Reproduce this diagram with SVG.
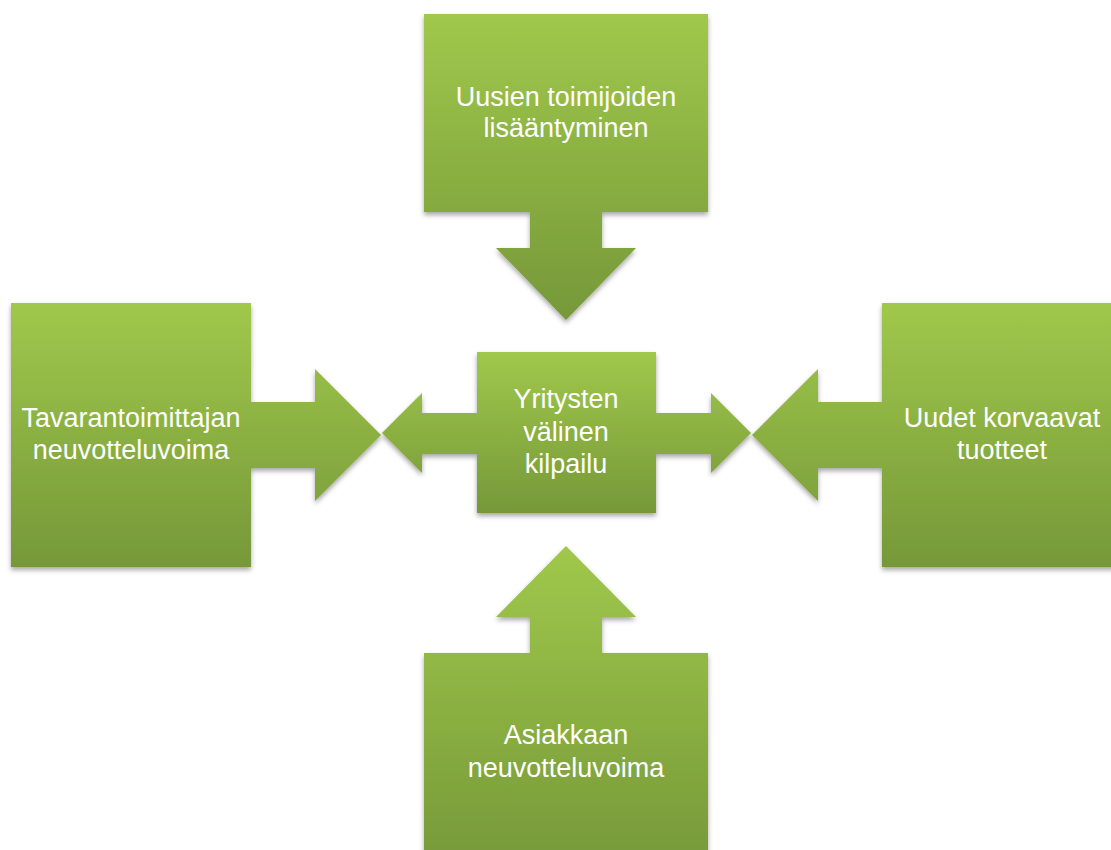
<svg xmlns="http://www.w3.org/2000/svg" width="1111" height="850" viewBox="0 0 1111 850">
  <defs>
    <linearGradient id="g" x1="0" y1="0" x2="0" y2="1">
      <stop offset="0" stop-color="#a0c84b"/>
      <stop offset="1" stop-color="#769839"/>
    </linearGradient>
    <filter id="sh" x="-10%" y="-10%" width="120%" height="125%">
      <feDropShadow dx="0" dy="3" stdDeviation="2.5" flood-color="#000" flood-opacity="0.35"/>
    </filter>
  </defs>
  <style>
    .shape { fill: url(#g); filter: url(#sh); }
    .lbl { font-family: "Liberation Sans", Arial, sans-serif; font-size: 27px; fill: #ffffff; text-anchor: middle; }
  </style>
  <rect width="1111" height="850" fill="#ffffff"/>
  <g id="connectors"></g>
  <g id="node-top">
    <path class="shape" d="M424,14 H708 V212 H602 V248 H636 L566,320 L496,248 H530 V212 H424 Z"/>
    <text class="lbl" x="566" y="106">Uusien toimijoiden</text>
    <text class="lbl" x="566" y="137">lisääntyminen</text>
  </g>
  <g id="node-left">
    <path class="shape" d="M11,303 H251 V402 H315 V369 L381,435 L315,501 V468 H251 V567 H11 Z"/>
    <text class="lbl" x="131" y="427">Tavarantoimittajan</text>
    <text class="lbl" x="131" y="459">neuvotteluvoima</text>
  </g>
  <g id="node-right">
    <path class="shape" d="M882,303 H1122 V567 H882 V468 H818 V501 L752,435 L818,369 V402 H882 Z"/>
    <text class="lbl" x="1002" y="427">Uudet korvaavat</text>
    <text class="lbl" x="1002" y="459">tuotteet</text>
  </g>
  <g id="node-bottom">
    <path class="shape" d="M424,653 H530 V617 H496 L566,546 L636,617 H602 V653 H708 V870 H424 Z"/>
    <text class="lbl" x="566" y="744">Asiakkaan</text>
    <text class="lbl" x="566" y="777">neuvotteluvoima</text>
  </g>
  <g id="node-center">
    <path class="shape" d="M477,352 H656 V413 H711 V393 L751,433 L711,473 V454 H656 V513 H477 V454 H422 V473 L382,433 L422,393 V413 H477 Z"/>
    <text class="lbl" x="566" y="408">Yritysten</text>
    <text class="lbl" x="566" y="441">välinen</text>
    <text class="lbl" x="566" y="473">kilpailu</text>
  </g>
</svg>
